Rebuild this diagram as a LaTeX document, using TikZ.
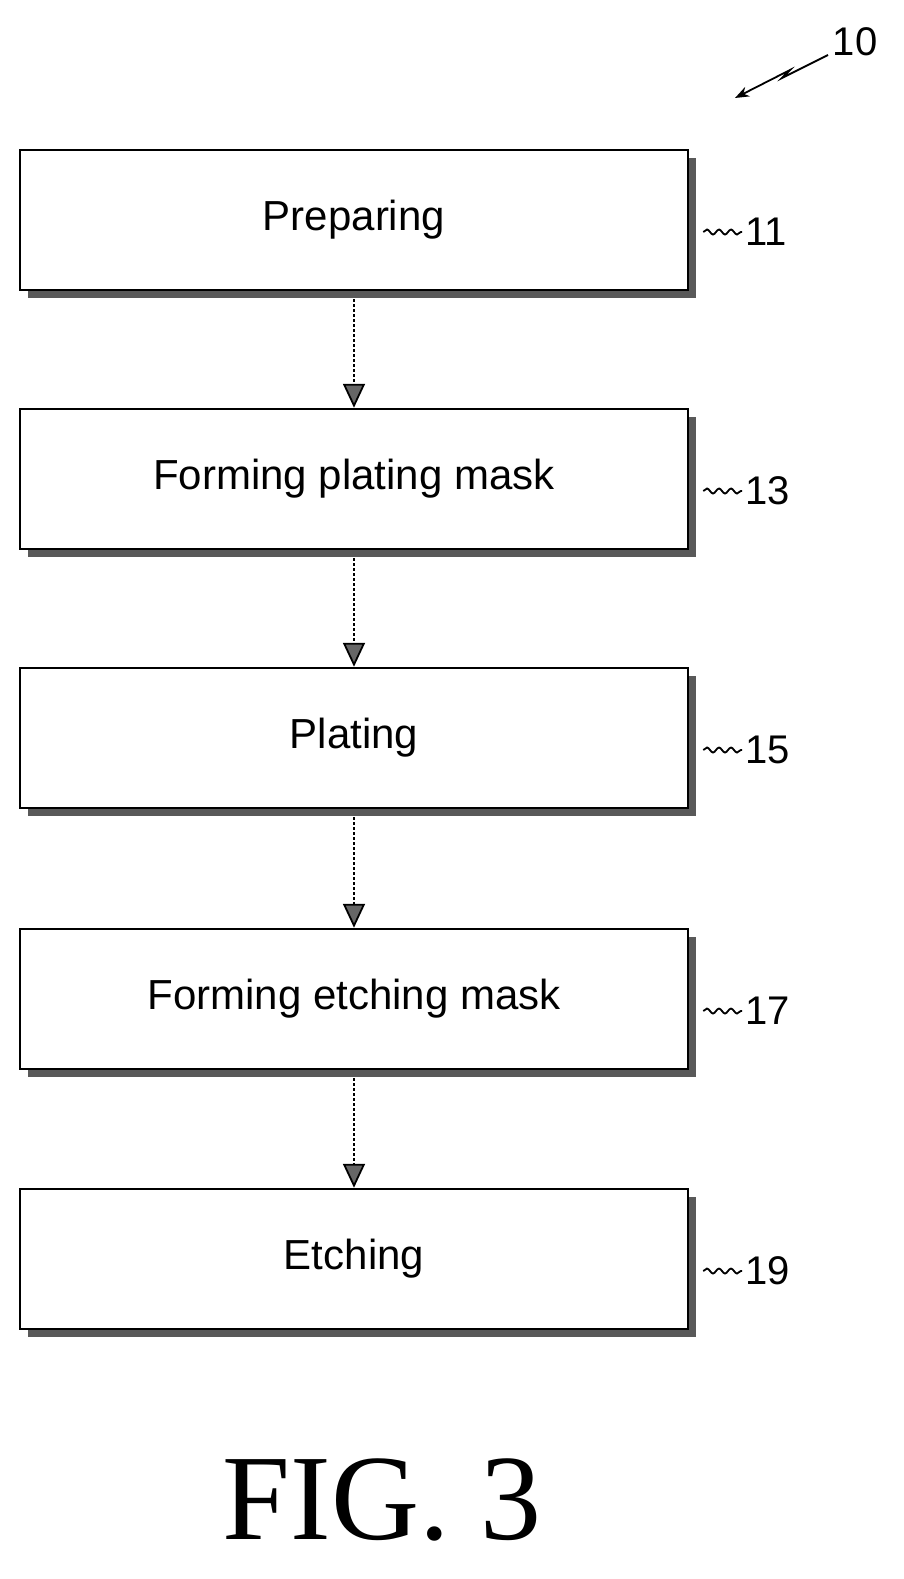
\documentclass[tikz,border=0pt]{standalone}
\usepackage{fontspec}
\setmainfont{Liberation Sans}
\newfontfamily\figfont{Liberation Serif}
\usetikzlibrary{arrows.meta,decorations.pathmorphing}
\begin{document}
\begin{tikzpicture}[x=1pt,y=-1pt,
  box/.style={draw,line width=2.5pt,fill=white,minimum width=668pt,minimum height=140pt,inner sep=0,
    font=\fontsize{42}{46}\selectfont},
  shadow/.style={fill=black!65},
  arr/.style={line width=1.8pt,dash pattern=on 3pt off 2pt,-{Triangle[fill=black!60,length=24pt,width=22pt]}},
  lead/.style={line width=1.8pt,decorate,decoration={snake,amplitude=2.5pt,segment length=12pt}},
  num/.style={font=\fontsize{40}{44}\selectfont,anchor=west}]
\useasboundingbox (0,0) rectangle (904,1579);
\foreach \y/\n/\t/\l in {220/a/Preparing/11,479/b/Forming plating mask/13,738/c/Plating/15,999/d/Forming etching mask/17,1259/e/Etching/19}{
  \fill[shadow] (28,\y-62) rectangle (696,\y+78);
  \node[box] (\n) at (354,\y) {\t};
  \coordinate (l\n) at (742,\y+12);
  \draw[lead] (\n.east|-l\n) ++(14,0) -- (l\n);
  \node[num] (n\n) at (l\n) {\l};
}
\foreach \a/\b in {a/b,b/c,c/d,d/e}{
  \draw[arr] ([yshift=-8pt]\a.south) -- (\b.north);
}
\node[font=\fontsize{40}{44}\selectfont] (ten) at (855,42) {10};
\coordinate (t1) at (828,55);
\coordinate (t2) at (735,98);
\draw[line width=1.8pt,-{Stealth[length=14pt]}] (t1) -- (782,78) -- (790,70) -- (t2);
\node[font=\figfont\fontsize{122}{130}\selectfont] (fig) at (382,1500) {FIG. 3};
\end{tikzpicture}
\end{document}
